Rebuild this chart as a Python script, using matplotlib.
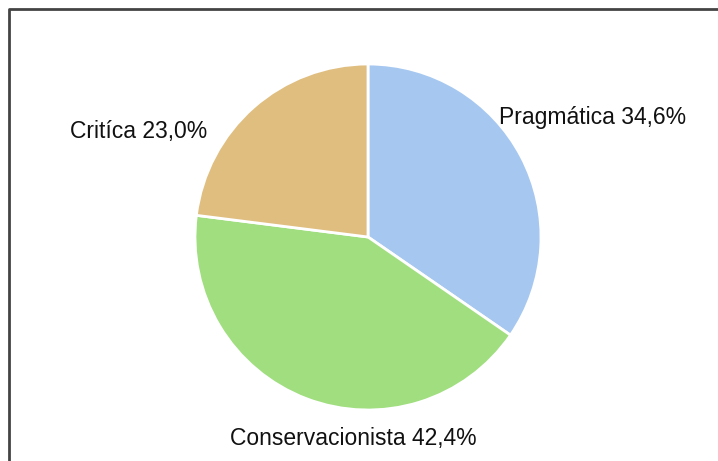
import matplotlib.pyplot as plt

plt.rcParams['font.family'] = ['Liberation Sans', 'DejaVu Sans']

categorias = ['Pragmática', 'Conservacionista', 'Critíca']
valores = [34.6, 42.4, 23.0]
cores = ['#a6c8f0', '#a0de80', '#dfbe80']
rotulos = ['Pragmática 34,6%', 'Conservacionista 42,4%', 'Critíca 23,0%']

W, H = 718, 461
fig = plt.figure(figsize=(W / 100, H / 100), dpi=100)
ax = fig.add_axes([0, 0, 1, 1])

# pizza com fatias no sentido horário a partir do topo
ax.pie(valores, colors=cores, startangle=90, counterclock=False,
       center=(368, H - 237), radius=173, frame=True,
       wedgeprops=dict(edgecolor='white', linewidth=2))
ax.set_xlim(0, W)
ax.set_ylim(0, H)
ax.set_aspect('equal')
ax.axis('off')

# rótulos
pos = [(499, H - 117, 'left'), (353, H - 438, 'center'), (70, H - 131, 'left')]
for (x, y, ha), txt in zip(pos, rotulos):
    ax.text(x, y, txt, ha=ha, va='center', fontsize=16.5, color='#111111')

# borda superior e esquerda
ax.plot([9, 9, W], [0, H - 9, H - 9], color='#444444', lw=2,
        solid_capstyle='butt', clip_on=False)

fig.savefig('out.png', dpi=100)
